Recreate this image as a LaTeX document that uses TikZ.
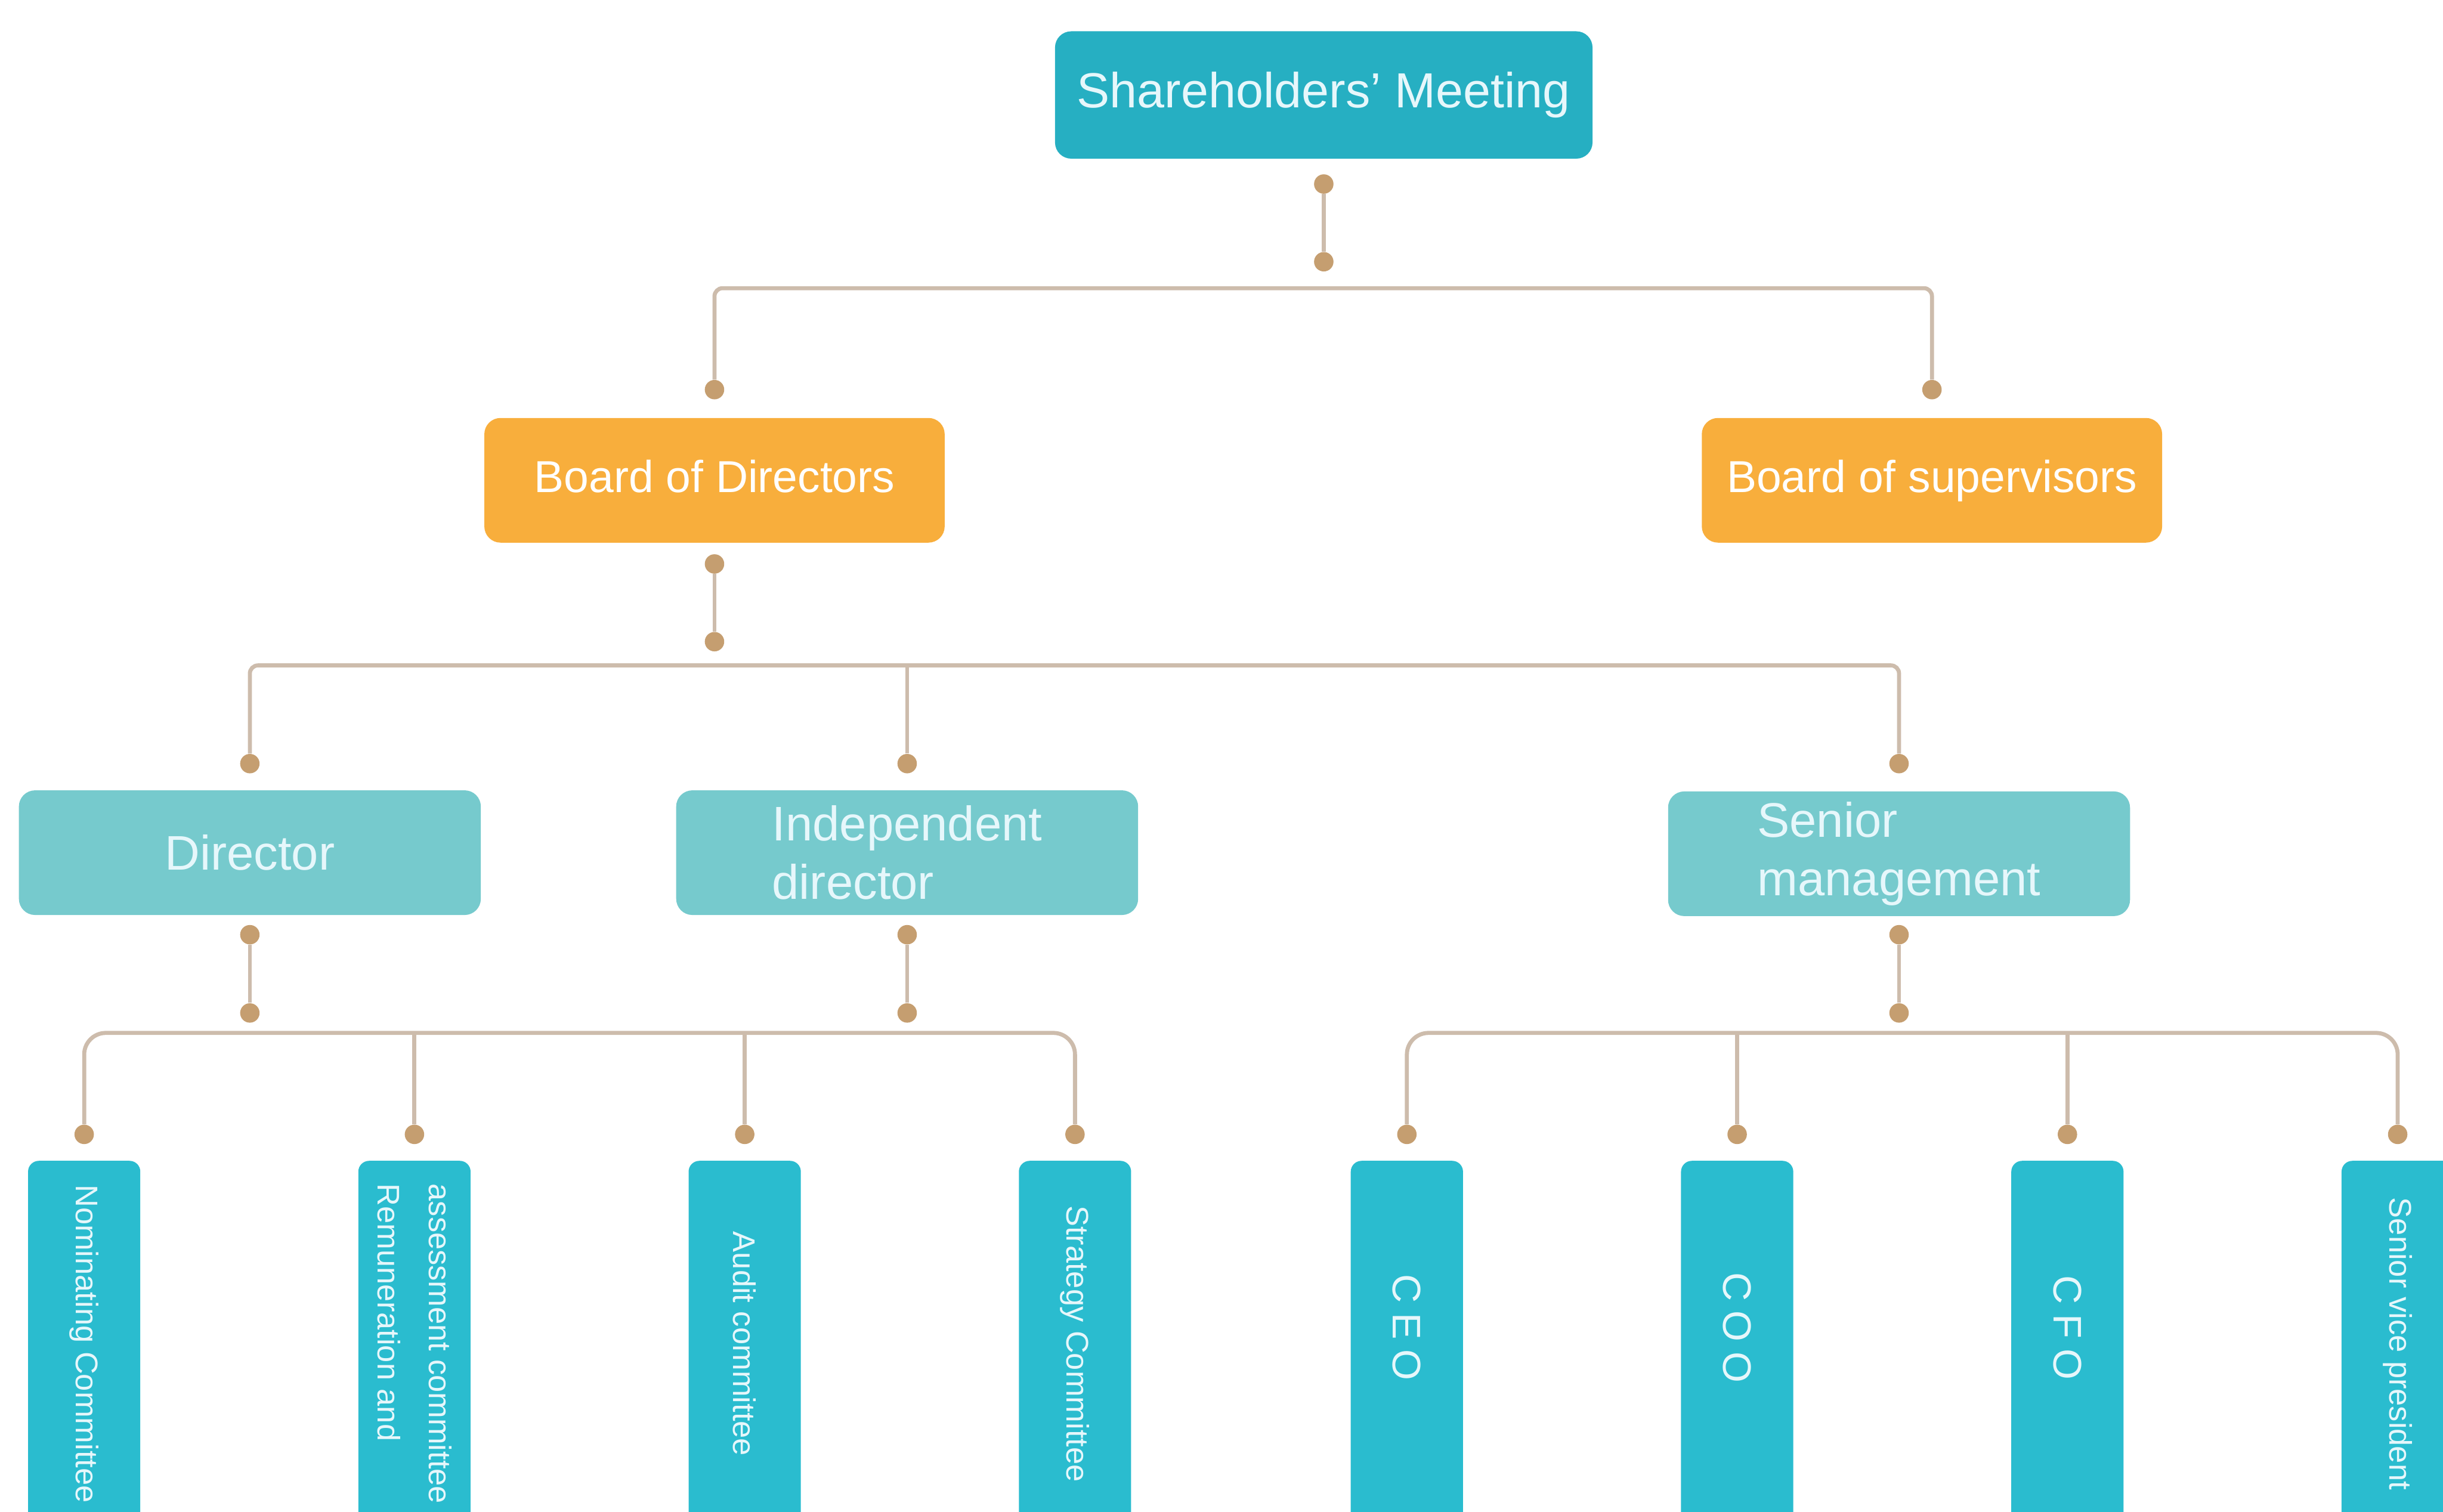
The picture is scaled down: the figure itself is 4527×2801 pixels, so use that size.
\documentclass[tikz,border=0pt]{standalone}
\usepackage{fontspec}
\setmainfont{Liberation Sans}[Ligatures=ResetAll]
\newfontfamily\spacedfont[LetterSpace=25]{Liberation Sans}
\definecolor{topteal}{HTML}{26AFC2}
\definecolor{boardorange}{HTML}{F8AE3C}
\definecolor{midteal}{HTML}{76CACD}
\definecolor{lowcyan}{HTML}{2ABCCF}
\definecolor{linetan}{HTML}{CDBCAC}
\definecolor{dotbrown}{HTML}{C59E70}
\definecolor{boxtext}{HTML}{E6F7FB}

\begin{document}
\begin{tikzpicture}[x=0.1mm,y=-0.1mm,
    box/.style={rectangle,rounded corners=3mm,inner sep=0pt,text=boxtext},
    topbox/.style={box,fill=topteal,minimum width=99.6mm,minimum height=23.6mm,font=\fontsize{26}{30}\selectfont},
    boardbox/.style={box,fill=boardorange,text=white,minimum width=85.3mm,minimum height=23.1mm,text height=6.2mm,text depth=1.8mm,font=\fontsize{23.6}{28}\selectfont},
    midbox/.style={box,fill=midteal,minimum width=85.6mm,minimum height=23.1mm,align=left,font=\fontsize{25.6}{31}\selectfont},
    lowbox/.style={box,fill=lowcyan,rotate=-90,rounded corners=2mm,minimum width=67.8mm,minimum height=20.8mm,align=left,font=\fontsize{16.5}{27}\selectfont},
    officer/.style={lowbox,font=\spacedfont\fontsize{21}{25}\selectfont},
    dot/.style={circle,fill=dotbrown,minimum size=3.6mm,inner sep=0pt},
    conn/.style={linetan,line width=0.75mm}]
\clip (0,0) rectangle (4527,2801);

% shareholders
\node[topbox] (sm) at (2453,176) {Shareholders' Meeting};
\node[dot] (sm-a) at (2453,341) {};
\node[dot] (sm-b) at (2453,485) {};
\draw[conn] (sm-a) -- (sm-b);
\coordinate (bus1) at (2453,534);
\node[dot] (bod-in) at (1324,722) {};
\node[dot] (bos-in) at (3580,722) {};
\draw[conn,rounded corners=1.5mm] (bod-in) |- (bus1) -| (bos-in);

% boards
\node[boardbox] (bod) at (1324,890) {Board of Directors};
\node[boardbox] (bos) at (3580,890) {Board of supervisors};
\node[dot] (bod-a) at (1324,1045) {};
\node[dot] (bod-b) at (1324,1189) {};
\draw[conn] (bod-a) -- (bod-b);
\coordinate (bus2) at (1681,1233);
\node[dot] (dir-in) at (463,1415) {};
\node[dot] (ind-in) at (1681,1415) {};
\node[dot] (sen-in) at (3519,1415) {};
\draw[conn,rounded corners=1.5mm] (dir-in) |- (bus2) -| (sen-in);
\draw[conn] (bus2) -- (ind-in);

% directors and management
\node[midbox] (dir) at (463,1580) {Director};
\node[midbox] (ind) at (1681,1580) {Independent\\director};
\node[midbox] (sen) at (3519,1582) {Senior\\management};
\node[dot] (dir-a) at (463,1732) {};
\node[dot] (dir-b) at (463,1877) {};
\draw[conn] (dir-a) -- (dir-b);
\node[dot] (ind-a) at (1681,1732) {};
\node[dot] (ind-b) at (1681,1877) {};
\draw[conn] (ind-a) -- (ind-b);
\node[dot] (sen-a) at (3519,1732) {};
\node[dot] (sen-b) at (3519,1877) {};
\draw[conn] (sen-a) -- (sen-b);

% committees
\coordinate (bus3l) at (1075,1914);
\node[dot] (nom-in) at (156,2102) {};
\node[dot] (rem-in) at (768,2102) {};
\node[dot] (aud-in) at (1380,2102) {};
\node[dot] (str-in) at (1992,2102) {};
\draw[conn,rounded corners=4mm] (nom-in) |- (bus3l) -| (str-in);
\draw[conn] (rem-in) -- (rem-in |- bus3l);
\draw[conn] (aud-in) -- (aud-in |- bus3l);

% officers
\coordinate (bus3r) at (3525,1914);
\node[dot] (ceo-in) at (2607,2102) {};
\node[dot] (coo-in) at (3219,2102) {};
\node[dot] (cfo-in) at (3831,2102) {};
\node[dot] (svp-in) at (4443,2102) {};
\draw[conn,rounded corners=4mm] (ceo-in) |- (bus3r) -| (svp-in);
\draw[conn] (coo-in) -- (coo-in |- bus3r);
\draw[conn] (cfo-in) -- (cfo-in |- bus3r);

\node[lowbox] (nom) at (156,2490) {Nominating Committee};
\node[lowbox] (rem) at (768,2490) {assessment committee\\Remuneration and};
\node[lowbox] (aud) at (1380,2490) {Audit committee};
\node[lowbox] (str) at (1992,2490) {Strategy Committee};
\node[officer] (ceo) at (2607,2490) {CEO\hspace{6mm}};
\node[officer] (coo) at (3219,2490) {COO\hspace{6mm}};
\node[officer] (cfo) at (3831,2490) {CFO\hspace{6mm}};
\node[lowbox] (svp) at (4443,2490) {Senior vice president};
\end{tikzpicture}
\end{document}
